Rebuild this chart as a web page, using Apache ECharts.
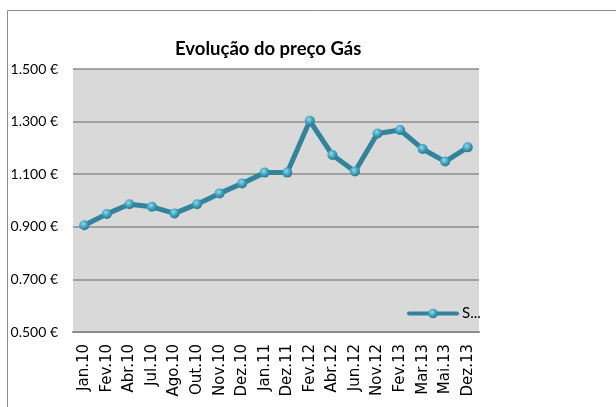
<!DOCTYPE html>
<html>
<head>
<meta charset="utf-8">
<script src="https://cdn.jsdelivr.net/npm/echarts@6/dist/echarts.min.js"></script>
<style>
  html, body { margin: 0; padding: 0; background: #fff; }
  #main { width: 616px; height: 407px; }
</style>
</head>
<body>
<div id="main"></div>
<script>
    var categorias = ['Jan.10', 'Fev.10', 'Abr.10', 'Jul.10', 'Ago.10', 'Out.10', 'Nov.10', 'Dez.10', 'Jan.11',
        'Dez.11', 'Fev.12', 'Abr.12', 'Jun.12', 'Nov.12', 'Fev.13', 'Mar.13', 'Mai.13', 'Dez.13'];
    var precos = [0.906, 0.949, 0.986, 0.976, 0.951, 0.986, 1.027, 1.065, 1.106,
        1.106, 1.303, 1.173, 1.110, 1.255, 1.268, 1.196, 1.148, 1.202];
    var ticksY = [0.5, 0.7, 0.9, 1.1, 1.3, 1.5];

    var corLinha = '#31849B';

    var option = {
        animation: false,
        title: {
            text: 'Evolução do preço Gás',
            left: 170,
            top: 35,
            textStyle: { fontFamily: 'Lato', fontWeight: 'bold', fontSize: 18.5, color: '#000' }
        },
        legend: {
            left: 402,
            top: 301,
            itemWidth: 48,
            itemHeight: 12,
            itemGap: 2,
            formatter: function () { return 'S...'; },
            lineStyle: { width: 4, cap: 'round' },
            textStyle: { fontFamily: 'Lato', fontSize: 15, color: '#000' }
        },
        graphic: [{
            type: 'rect',
            shape: { x: 7.5, y: 10.5, width: 700, height: 500 },
            style: { fill: 'none', stroke: '#8c8c8c', lineWidth: 1 },
            silent: true
        }],
        grid: {
            left: 73, top: 69, right: 137, bottom: 75,
            show: true, backgroundColor: '#D9D9D9', borderWidth: 0
        },
        xAxis: {
            type: 'category',
            data: categorias,
            boundaryGap: true,
            axisLine: { lineStyle: { color: '#8c8c8c', width: 2 } },
            axisTick: { show: false },
            axisLabel: {
                rotate: 90, interval: 0, margin: 12,
                fontFamily: 'DejaVu Sans', fontSize: 15, color: '#000'
            }
        },
        yAxis: {
            type: 'value',
            min: 0.5,
            max: 1.5,
            axisLine: { show: false },
            axisTick: { show: false, customValues: ticksY },
            axisLabel: {
                customValues: ticksY,
                margin: 15,
                fontFamily: 'Lato', fontSize: 14, color: '#000',
                formatter: function (v) { return v.toFixed(3) + ' €'; }
            },
            splitLine: { lineStyle: { color: '#8c8c8c', width: 1.5 } }
        },
        series: [{
            name: 'Série1',
            type: 'line',
            data: precos,
            symbol: 'circle',
            symbolSize: 10,
            lineStyle: { color: corLinha, width: 5 },
            itemStyle: {
                color: new echarts.graphic.RadialGradient(0.4, 0.35, 0.6, [
                    { offset: 0, color: '#8EDCEF' },
                    { offset: 0.5, color: '#4BACC6' },
                    { offset: 1, color: '#2A7F96' }
                ]),
                borderWidth: 0
            }
        }]
    };

    echarts.init(document.getElementById('main')).setOption(option);
</script>
</body>
</html>
